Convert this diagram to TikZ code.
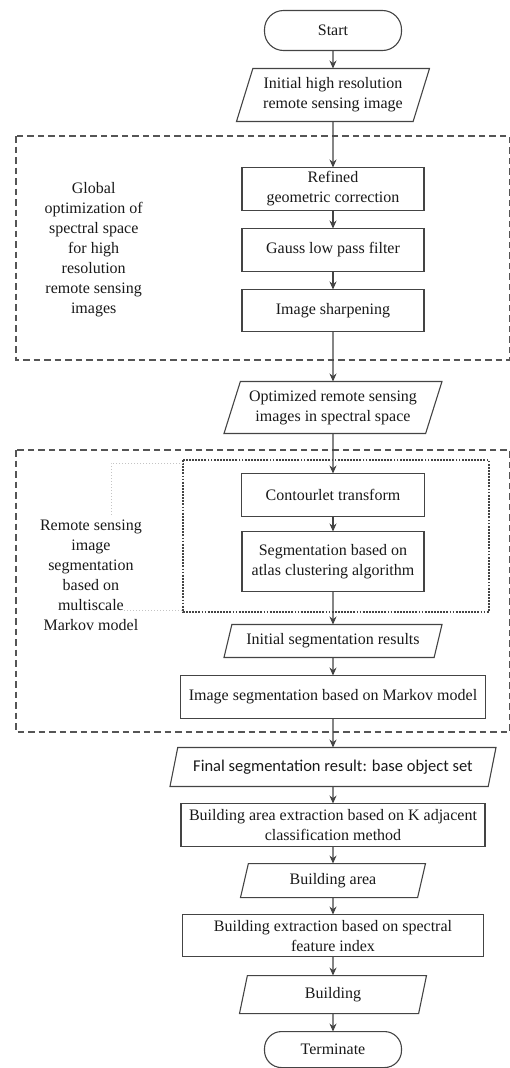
\documentclass[tikz,border=0pt]{standalone}
\usepackage{fontspec}
\setmainfont{Liberation Serif}
\newfontfamily\calfont{Carlito}
\usetikzlibrary{shapes.geometric, arrows.meta, positioning}
\definecolor{linegray}{HTML}{444444}
\definecolor{framegray}{HTML}{555555}
\definecolor{calloutgray}{HTML}{C4C4C4}
\tikzstyle{terminal} = [rectangle, rounded corners=19pt, minimum width=137pt, minimum height=40pt, outer sep=0pt, draw=linegray, line width=1.1pt]
\tikzstyle{process} = [rectangle, minimum width=182pt, minimum height=43pt, inner sep=2pt, outer sep=0pt, draw=linegray, line width=1.1pt, align=center]
\tikzstyle{data} = [trapezium, trapezium left angle=67, trapezium right angle=113, trapezium stretches body=true, minimum width=193pt, minimum height=53pt, inner sep=2pt, outer sep=0pt, draw=linegray, line width=1.1pt, align=center]
\tikzstyle{sidelabel} = [align=center, inner sep=0pt]
\tikzstyle{arrow} = [line width=1.1pt, draw=linegray, -{Stealth[length=8pt,width=7pt]}]
\tikzstyle{dashframe} = [draw=framegray, line width=2pt, dash pattern=on 6.5pt off 4pt]
\tikzstyle{dotframe} = [draw=linegray, line width=2pt, dash pattern=on 1.8pt off 1.3pt]
\tikzstyle{callout} = [draw=calloutgray, line width=1pt, dotted]

\begin{document}
\begin{tikzpicture}[x=1pt, y=-1pt, font=\fontsize{16}{20}\selectfont, text=black!90]
      \useasboundingbox (0,0) rectangle (510,1068);

      \node (start) [terminal] at (333,30.5) {Start};
      \node (rawimg) [data, below=18pt of start] {Initial high resolution\\remote sensing image};
      \node (refine) [process, below=46pt of rawimg] {Refined\\geometric correction};
      \node (gauss) [process, below=18pt of refine] {Gauss low pass filter};
      \node (sharpen) [process, minimum height=42pt, below=18pt of gauss] {Image sharpening};
      \node (optimg) [data, minimum width=218pt, minimum height=52pt, below=50pt of sharpen] {Optimized remote sensing\\images in spectral space};
      \node (contour) [process, minimum width=183pt, below=40pt of optimg] {Contourlet transform};
      \node (atlas) [process, minimum height=60pt, below=15pt of contour] {Segmentation based on\\atlas clustering algorithm};
      \node (initseg) [data, minimum width=218pt, minimum height=33pt, below=33pt of atlas] {Initial segmentation results};
      \node (markov) [process, minimum width=305pt, below=18pt of initseg] {Image segmentation based on Markov model};
      \node (finalseg) [data, minimum width=326pt, minimum height=39pt, below=29pt of markov, font=\calfont\fontsize{16.5}{20}\selectfont] {Final segmentation result: base object set};
      \node (areaext) [process, minimum width=304pt, below=17pt of finalseg] {Building area extraction based on K adjacent\\classification method};
      \node (area) [data, minimum width=185pt, minimum height=34pt, below=17pt of areaext] {Building area};
      \node (bldgext) [process, minimum width=301pt, minimum height=42pt, below=17pt of area] {Building extraction based on spectral\\feature index};
      \node (bldg) [data, minimum width=187pt, minimum height=38pt, below=19pt of bldgext] {Building};
      \node (stop) [terminal, minimum height=36pt, rounded corners=17pt, below=18pt of bldg] {Terminate};

      \node (globallbl) [sidelabel, left=99pt of gauss] {Global\\optimization of\\spectral space\\for high\\resolution\\remote sensing\\images};
      \node (segmlbl) [sidelabel, left=100pt of atlas, yshift=-14pt] {Remote sensing\\image\\segmentation\\based on\\multiscale\\Markov model};

      % group frames
      \draw [dashframe] (16,136) rectangle (509.5,360);
      \draw [dashframe] (16,450) rectangle (509.5,732);
      \draw [dotframe] (183,460) rectangle (489,612);
      \draw [callout] (183,463) -- (111,463) -- (111,516);
      \draw [callout] (124,610) -- (183,610);

      \draw [arrow] (start) -- (rawimg);
      \draw [arrow] (rawimg) -- (refine);
      \draw [arrow] (refine) -- (gauss);
      \draw [arrow] (gauss) -- (sharpen);
      \draw [arrow] (sharpen) -- (optimg);
      \draw [arrow] (optimg) -- (contour);
      \draw [arrow] (contour) -- (atlas);
      \draw [arrow] (atlas) -- (initseg);
      \draw [arrow] (initseg) -- (markov);
      \draw [arrow] (markov) -- (finalseg);
      \draw [arrow] (finalseg) -- (areaext);
      \draw [arrow] (areaext) -- (area);
      \draw [arrow] (area) -- (bldgext);
      \draw [arrow] (bldgext) -- (bldg);
      \draw [arrow] (bldg) -- (stop);
    \end{tikzpicture}
\end{document}
